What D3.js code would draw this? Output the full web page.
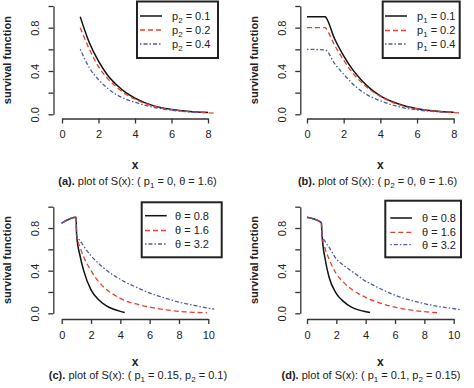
<!DOCTYPE html>
<html>
<head>
<meta charset="utf-8">
<script src="https://cdnjs.cloudflare.com/ajax/libs/d3/7.8.5/d3.min.js"></script>
<style>
    body { margin: 0; background: #fff; }
    svg { display: block; }
    text { font-family: "Liberation Sans", Arial, sans-serif; fill: #222; }
</style>
</head>
<body>
<svg id="chart" width="474" height="388"></svg>
<script>
"use strict";

// (a) p1 = 0, theta = 1.6
var xA = [1, 1.5, 2, 2.5, 3, 3.5, 4, 5, 6, 7, 7.6, 8, 8.4];
var sA_p2_01 = [0.90, 0.66, 0.49, 0.36, 0.27, 0.20, 0.15, 0.08, 0.045, 0.026, 0.02, 0.016, null];
var sA_p2_02 = [0.80, 0.60, 0.44, 0.33, 0.25, 0.185, 0.14, 0.075, 0.042, 0.024, 0.018, 0.014, 0.011];
var sA_p2_04 = [0.60, 0.43, 0.32, 0.24, 0.18, 0.14, 0.11, 0.065, 0.038, 0.022, 0.016, null, null];

// (b) p2 = 0, theta = 1.6
var xB = [0, 1, 1.05, 1.5, 2, 2.5, 3, 3.5, 4, 5, 6, 7, 7.6, 8, 8.4];
var sB_p1_01 = [0.90, 0.90, 0.89, 0.70, 0.54, 0.41, 0.31, 0.23, 0.17, 0.095, 0.052, 0.03, 0.022, 0.018, null];
var sB_p1_02 = [0.80, 0.80, 0.79, 0.64, 0.50, 0.38, 0.29, 0.22, 0.165, 0.09, 0.05, 0.028, 0.02, 0.016, 0.012];
var sB_p1_04 = [0.60, 0.595, 0.59, 0.47, 0.37, 0.28, 0.21, 0.16, 0.125, 0.07, 0.04, 0.025, 0.018, null, null];

// (c) p1 = 0.15, p2 = 0.1
var xC = [0, 0.98, 1.02, 1.25, 1.5, 2, 2.5, 3, 3.5, 4, 4.3, 5, 6, 7, 8, 9, 9.9, 10.4];
var sC_t08 = [0.845, 0.90, 0.73, 0.54, 0.40, 0.22, 0.13, 0.075, 0.04, 0.018, 0.008, null, null, null, null, null, null, null];
var sC_t16 = [0.845, 0.90, 0.73, 0.62, 0.53, 0.40, 0.30, 0.23, 0.18, 0.14, 0.12, 0.09, 0.058, 0.035, 0.018, 0.009, 0.005, null];
var sC_t32 = [0.845, 0.90, 0.73, 0.68, 0.63, 0.54, 0.47, 0.41, 0.36, 0.32, 0.295, 0.25, 0.19, 0.145, 0.105, 0.075, 0.05, 0.04];

// (d) p1 = 0.1, p2 = 0.15
var xD = [0, 0.98, 1.02, 1.25, 1.5, 2, 2.5, 3, 3.5, 4, 4.3, 5, 6, 7, 8, 8.9, 9.9, 10.4];
var sD_t08 = [0.90, 0.85, 0.74, 0.50, 0.34, 0.185, 0.11, 0.06, 0.032, 0.015, 0.007, null, null, null, null, null, null, null];
var sD_t16 = [0.90, 0.85, 0.74, 0.60, 0.51, 0.37, 0.29, 0.23, 0.185, 0.15, 0.13, 0.095, 0.058, 0.032, 0.015, 0.005, null, null];
var sD_t32 = [0.90, 0.85, 0.74, 0.67, 0.62, 0.51, 0.45, 0.40, 0.35, 0.30, 0.28, 0.23, 0.17, 0.125, 0.09, 0.065, 0.046, 0.035];

var yTicks = [0, 0.2, 0.4, 0.6, 0.8, 1.0];
var yLabels = [0, 0.4, 0.8];
var xTicks8 = [0, 2, 4, 6, 8];
var xTicks10 = [0, 2, 4, 6, 8, 10];
var legendP = ["0.1", "0.2", "0.4"];
var legendTheta = ["0.8", "1.6", "3.2"];

var colors = ["#111111", "#e5402f", "#4d5ba8"];
var dashes = [null, "5,3", "1.5,2,4,2"];

var svg = d3.select("#chart");

// write text made of plain / bold / subscript pieces
function richText(sel, pieces) {
    pieces.forEach(function (p) {
        var t = sel.append("tspan").text(p[0]);
        if (p[1] === "b") {
            t.attr("font-weight", "bold");
        } else if (p[1] === "sub") {
            t.attr("font-size", 8).attr("dy", 3);
        }
        if (p[2]) {
            t.attr("dy", p[2]);
        }
    });
}

function drawPanel(p) {
    var x = d3.scaleLinear().domain(p.xDomain).range(p.xRange),
        y = d3.scaleLinear().domain([0, 1]).range(p.yRange);

    var yAxis = svg.append("g")
        .attr("transform", "translate(" + p.yAxisX + ",0)")
        .call(d3.axisLeft(y).tickValues(yTicks).tickSize(5).tickSizeOuter(0)
            .tickFormat(function (d) { return yLabels.indexOf(d) >= 0 ? d3.format(".1f")(d) : ""; }));
    yAxis.selectAll("text")
        .attr("transform", "rotate(-90)")
        .attr("x", 0).attr("y", -18).attr("dy", "0.35em")
        .attr("text-anchor", "middle");

    var xAxis = svg.append("g")
        .attr("transform", "translate(0," + p.xAxisY + ")")
        .call(d3.axisBottom(x).tickValues(p.xTicks).tickSize(5).tickSizeOuter(0).tickFormat(d3.format("d")));
    xAxis.selectAll("text").attr("y", 16).attr("dy", "0.35em");

    [xAxis, yAxis].forEach(function (a) {
        a.attr("font-family", null).attr("font-size", 11);
        a.selectAll("path, line").attr("stroke", "#333").attr("stroke-width", 1.3);
    });

    // axis titles
    svg.append("text")
        .attr("transform", "translate(" + (p.yAxisX - 46) + "," + ((p.yRange[0] + p.yRange[1]) / 2) + ") rotate(-90)")
        .attr("text-anchor", "middle").attr("dy", "0.35em")
        .attr("font-size", 11).attr("font-weight", "bold")
        .text("survival function");
    svg.append("text")
        .attr("x", (p.xRange[0] + p.xRange[1]) / 2).attr("y", p.xTitleY).attr("dy", "0.35em")
        .attr("text-anchor", "middle").attr("font-size", 12).attr("font-weight", "bold")
        .text("x");
    richText(svg.append("text")
        .attr("x", p.captionX).attr("y", p.captionY).attr("dy", "0.35em")
        .attr("text-anchor", "middle").attr("font-size", 11), p.caption);

    // curves
    var line = d3.line()
        .defined(function (d) { return d[1] !== null; })
        .x(function (d) { return x(d[0]); })
        .y(function (d) { return y(d[1]); })
        .curve(d3.curveMonotoneX);
    p.series.forEach(function (s, i) {
        svg.append("path")
            .datum(p.xs.map(function (v, k) { return [v, s[k]]; }))
            .attr("d", line)
            .attr("fill", "none")
            .attr("stroke", colors[i])
            .attr("stroke-width", i === 0 ? 1.5 : 1.3)
            .attr("stroke-dasharray", dashes[i]);
    });

    // legend
    var L = p.legend;
    svg.append("rect")
        .attr("x", L.x).attr("y", L.y).attr("width", L.w).attr("height", L.h)
        .attr("fill", "#fff").attr("stroke", "#222").attr("stroke-width", 2);
    L.labels.forEach(function (lab, i) {
        var ry = L.rows[i];
        svg.append("line")
            .attr("x1", L.lineX[0]).attr("x2", L.lineX[1]).attr("y1", ry).attr("y2", ry)
            .attr("stroke", colors[i]).attr("stroke-width", i === 0 ? 1.5 : 1.3)
            .attr("stroke-dasharray", dashes[i]);
        var t = svg.append("text").attr("x", L.textX).attr("y", ry).attr("dy", "0.35em").attr("font-size", 11);
        if (L.sym === "theta") {
            t.text("\u03b8 = " + lab);
        } else {
            richText(t, [["p"], [L.sym, "sub"], [" = " + lab, null, -3]]);
        }
    });
}

var panels = [
    {
        xs: xA, series: [sA_p2_01, sA_p2_02, sA_p2_04],
        xDomain: [0, 8], xRange: [62, 208], yRange: [114.3, 6], xTicks: xTicks8,
        yAxisX: 53.5, xAxisY: 118.5, xTitleY: 165, captionX: 137.5, captionY: 181,
        caption: [["(a).", "b"], [" plot of S(x): ( p"], ["1", "sub"], [" = 0, \u03b8 = 1.6)", null, -3]],
        legend: { x: 137, y: 1.5, w: 81, h: 56.5, rows: [16, 30, 44], lineX: [140, 162], textX: 172, labels: legendP, sym: "2" }
    },
    {
        xs: xB, series: [sB_p1_01, sB_p1_02, sB_p1_04],
        xDomain: [0, 8], xRange: [307, 453.7], yRange: [114.3, 6], xTicks: xTicks8,
        yAxisX: 300.3, xAxisY: 118.5, xTitleY: 165, captionX: 377.5, captionY: 181,
        caption: [["(b).", "b"], [" plot of S(x): ( p"], ["2", "sub"], [" = 0, \u03b8 = 1.6)", null, -3]],
        legend: { x: 382.7, y: 1.5, w: 77, h: 56.5, rows: [16, 30.5, 44], lineX: [385, 407], textX: 417, labels: legendP, sym: "1" }
    },
    {
        xs: xC, series: [sC_t08, sC_t16, sC_t32],
        xDomain: [0, 10], xRange: [61.7, 208.3], yRange: [313.3, 206.7], xTicks: xTicks10,
        yAxisX: 53.3, xAxisY: 319, xTitleY: 362, captionX: 138, captionY: 375.5,
        caption: [["(c).", "b"], [" plot of S(x): ( p"], ["1", "sub"], [" = 0.15, p", null, -3], ["2", "sub"], [" = 0.1)", null, -3]],
        legend: { x: 141.7, y: 202.3, w: 80, h: 55, rows: [215.7, 230.5, 244], lineX: [145, 166.7], textX: 175, labels: legendTheta, sym: "theta" }
    },
    {
        xs: xD, series: [sD_t08, sD_t16, sD_t32],
        xDomain: [0, 10], xRange: [307, 453.7], yRange: [313.3, 206.7], xTicks: xTicks10,
        yAxisX: 300.3, xAxisY: 319, xTitleY: 362, captionX: 371, captionY: 375.5,
        caption: [["(d).", "b"], [" plot of S(x): ( p"], ["1", "sub"], [" = 0.1, p", null, -3], ["2", "sub"], [" = 0.15)", null, -3]],
        legend: { x: 385.3, y: 200.7, w: 75.7, h: 56.6, rows: [218, 232.3, 244.7], lineX: [390.3, 412], textX: 422, labels: legendTheta, sym: "theta" }
    }
];

panels.forEach(drawPanel);
</script>
</body>
</html>
